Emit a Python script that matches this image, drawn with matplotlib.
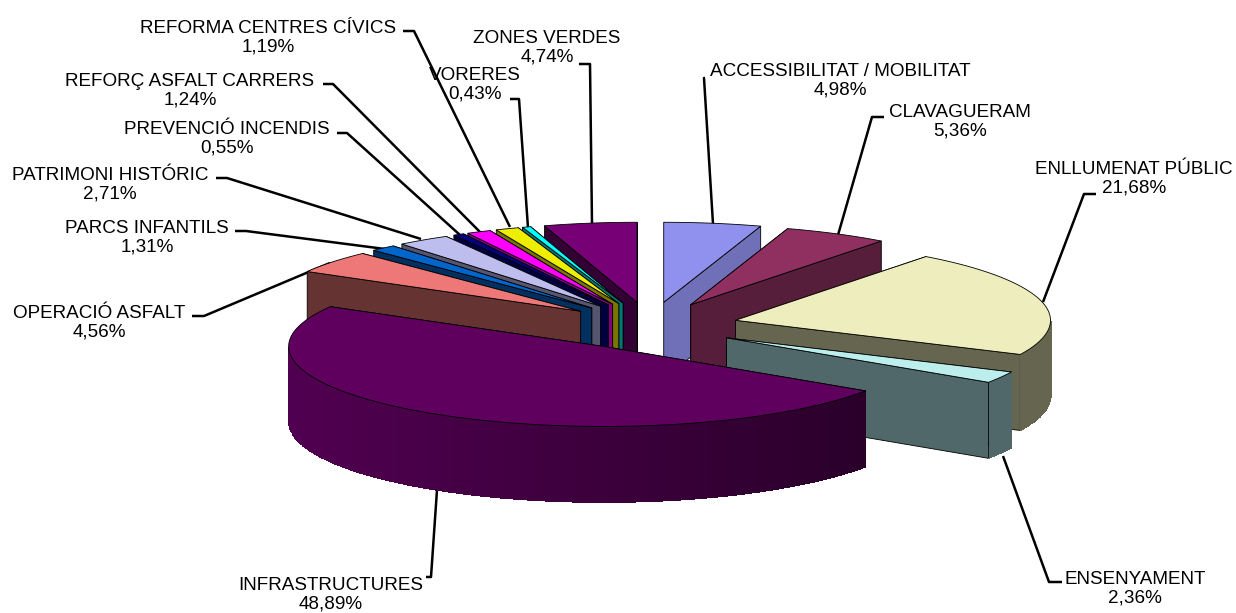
import numpy as np
import matplotlib
matplotlib.use("Agg")
import matplotlib.pyplot as plt
from matplotlib.patches import Polygon

categories = ["ACCESSIBILITAT / MOBILITAT", "CLAVAGUERAM", "ENLLUMENAT PÚBLIC", "ENSENYAMENT",
              "INFRASTRUCTURES", "OPERACIÓ ASFALT", "PARCS INFANTILS", "PATRIMONI HISTÓRIC",
              "PREVENCIÓ INCENDIS", "REFORÇ ASFALT CARRERS", "REFORMA CENTRES CÍVICS",
              "VORERES", "ZONES VERDES"]
values = [4.98, 5.36, 21.68, 2.36, 48.89, 4.56, 1.31, 2.71, 0.55, 1.24, 1.19, 0.43, 4.74]
top_colors = ["#9090EE", "#903060", "#EDEDBD", "#BDEEEE", "#5F005F", "#EE7878", "#0066CC",
              "#BDBDEE", "#000080", "#FF00FF", "#EEEE00", "#00FFFF", "#770077"]
side_colors = ["#7070B8", "#561E3A", "#666650", "#50686A", "#2A002A", "#663333", "#00305F",
               "#555570", "#000040", "#800080", "#777700", "#007777", "#330033"]

# label layout (centre x, centre y of the two-line text)
label_pos = [(840, 79), (960, 120), (1134, 177), (1135, 587), (331, 593), (99, 321), (147, 236),
             (110, 183), (227, 137), (190, 89), (268, 36), (475, 83), (547, 46)]
label_pos = [(x, y + 1.5) for x, y in label_pos]
# leader lines
leaders = [
    [(705, 78), (704, 78), (713, 224)],
    [(884, 117), (872, 117), (838, 235)],
    [(1096, 194), (1084, 194), (1043, 302)],
    [(1062, 582), (1049, 582), (1003, 456)],
    [(426, 577), (431, 577), (437, 490)],
    [(192, 316), (204, 316), (330, 263)],
    [(235, 231), (246, 231), (385, 249)],
    [(216, 178), (227, 178), (421, 239)],
    [(337, 133), (347, 133), (460, 235)],
    [(323, 84), (333, 84), (481, 233)],
    [(403, 31), (414, 31), (510, 227)],
    [(510, 99), (519, 99), (528, 228)],
    [(579, 64), (590, 64), (592, 224)],
]

CX, CY = 650, 326
R, K = 315, 0.254
EXPLODE_X, EXPLODE_Y = 88, 24
DEPTH = 76


def shade(color, f):
    return tuple(c * f for c in matplotlib.colors.to_rgb(color))


plt.rcParams["font.family"] = ["Liberation Sans", "DejaVu Sans"]
fig = plt.figure(figsize=(12.36, 6.13), dpi=100)
ax = fig.add_axes([0, 0, 1, 1])
ax.set_xlim(0, 1236)
ax.set_ylim(613, 0)
ax.axis("off")

vals = np.array(values, dtype=float)
edges = np.concatenate([[0], np.cumsum(vals)]) / vals.sum() * 2 * np.pi
mids = (edges[:-1] + edges[1:]) / 2
order = np.argsort(-np.cos(mids))

for leader in leaders:
    xs, ys = zip(*leader)
    ax.plot(xs, ys, color="black", lw=1.8, solid_capstyle="butt", zorder=1)

z = 2
for i in order:
    t0, t1 = edges[i], edges[i + 1]
    col = top_colors[i]
    side = matplotlib.colors.to_rgb(side_colors[i])
    ax_, ay_ = CX + EXPLODE_X * np.sin(mids[i]), CY - EXPLODE_Y * np.cos(mids[i])
    rim = lambda t: (ax_ + R * np.sin(t), ay_ - R * K * np.cos(t))
    faces = sorted([t0, t1], key=lambda t: rim(t)[1])
    for t in faces:
        x, y = rim(t)
        ax.add_patch(Polygon([(ax_, ay_), (x, y), (x, y + DEPTH), (ax_, ay_ + DEPTH)],
                             closed=True, fc=side, ec="black", lw=0.6, zorder=z))
        z += 1
    a0, a1 = max(t0, np.pi / 2), min(t1, 3 * np.pi / 2)
    if a1 > a0:
        ts = np.linspace(a0, a1, max(2, int((a1 - a0) * 60)))
        for p, q in zip(ts[:-1], ts[1:]):
            # brighter towards the left of the cake, as the lit side
            g = np.clip((0.83 - np.sin((p + q) / 2)) / 1.83, 0, 1)
            base = np.array(matplotlib.colors.to_rgb(col)) * 0.85
            c = tuple(np.array(side) + (base - np.array(side)) * g)
            (x0, y0), (x1, y1) = rim(p), rim(q)
            ax.add_patch(Polygon([(x0, y0), (x1 + 0.6, y1), (x1 + 0.6, y1 + DEPTH), (x0, y0 + DEPTH)],
                                 closed=True, fc=c, ec="none", antialiased=False, zorder=z))
            z += 1
    ts = np.linspace(t0, t1, max(3, int((t1 - t0) * 120)))
    rx, ry = rim(ts)
    ax.add_patch(Polygon(np.column_stack([np.r_[ax_, rx], np.r_[ay_, ry]]), closed=True,
                         fc=col, ec="black", lw=0.6, joinstyle="round", zorder=z))
    z += 1

for name, v, (x, y) in zip(categories, values, label_pos):
    txt = f"{v:.2f}".replace(".", ",") + "%"
    ax.text(x, y, f"{name}\n{txt}", ha="center", va="center", fontsize=13.6,
            linespacing=1.08, color="black", zorder=z + 1)

fig.savefig("out.png", dpi=100)
